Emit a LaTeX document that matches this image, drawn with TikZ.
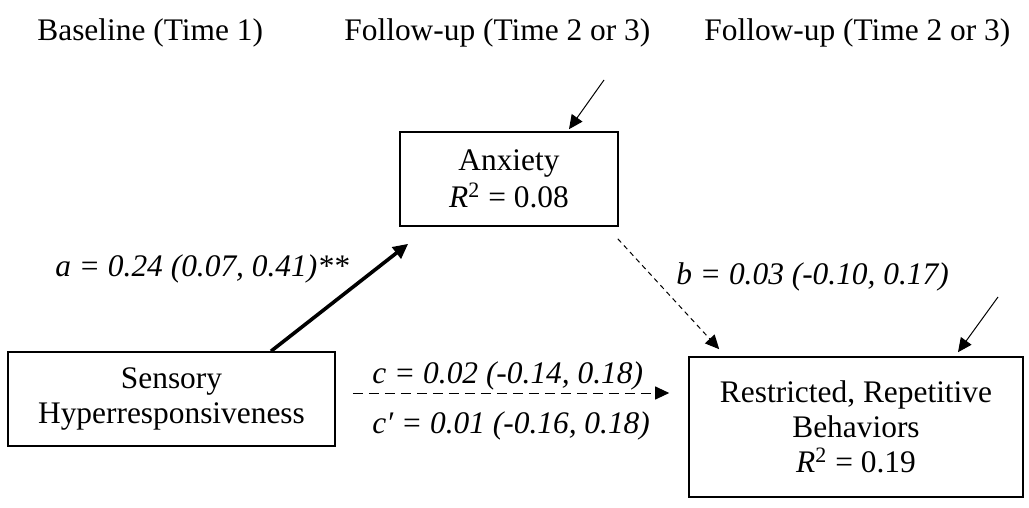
\documentclass[tikz,border=0pt]{standalone}
\usepackage{fontspec}
\setmainfont{Liberation Serif}
\usetikzlibrary{arrows.meta, calc}

\begin{document}
\begin{tikzpicture}[x=0.5pt, y=-0.5pt,
  every node/.style={font=\fontsize{15.7}{17.5}\selectfont},
  varbox/.style={draw, line width=0.8pt, align=center, inner sep=0pt},
  lbl/.style={anchor=base west, inner sep=0pt, font=\fontsize{15.7}{17.5}\selectfont\itshape},
  hdr/.style={anchor=base west, inner sep=0pt},
  tip/.style={-{Triangle[length=7pt, width=6.5pt]}},
  errpath/.style={tip, line width=0.5pt},
  apath/.style={-{Triangle[length=7.5pt, width=7pt]}, line width=1.8pt},
  bpath/.style={tip, line width=0.5pt, dash pattern=on 2.5pt off 2pt},
  cpath/.style={tip, line width=0.5pt, dash pattern=on 5pt off 3pt}]
  \useasboundingbox (0,0) rectangle (1029,508);

  \node[hdr] (t1) at (37,41) {Baseline (Time 1)};
  \node[hdr] (t2) at (344,41) {Follow-up (Time 2 or 3)};
  \node[hdr] (t3) at (704,41) {Follow-up (Time 2 or 3)};

  \node[varbox, minimum width=163.5pt, minimum height=47pt] (sens) at (171.5,399)
    {Sensory\\Hyperresponsiveness};
  \node[varbox, minimum width=109pt, minimum height=47pt,
    font=\fontsize{15.7}{18.5}\selectfont] (anx) at (509,179)
    {Anxiety\\\textit{R}\textsuperscript{2} = 0.08};
  \node[varbox, minimum width=167pt, minimum height=70pt] (rrb) at (856,427)
    {Restricted, Repetitive\\Behaviors\\\textit{R}\textsuperscript{2} = 0.19};

  \coordinate (eanx) at (604,80);
  \coordinate (errb) at (998,297);

  \draw[errpath] (eanx) -- ($(anx.north)+(60,-2)$);
  \draw[errpath] (errb) -- ($(rrb.north)+(102,-4)$);
  \draw[apath] ($(sens.north)+(99.5,0)$) -- ($(anx.south west)+(9,17)$);
  \draw[bpath] ($(anx.south east)+(-1,12)$) -- ($(rrb.north west)+(31,-7)$);
  \draw[cpath] ($(sens.east)+(17,-6)$) -- ($(rrb.west)+(-19,-34)$);

  \node[lbl] (la) at (55,277) {a = 0.24 (0.07, 0.41)**};
  \node[lbl] (lb) at (676,285) {b = 0.03 (-0.10, 0.17)};
  \node[lbl] (lc) at (372,383) {c = 0.02 (-0.14, 0.18)};
  \node[lbl] (lcp) at (372,433) {c′ = 0.01 (-0.16, 0.18)};
\end{tikzpicture}
\end{document}
